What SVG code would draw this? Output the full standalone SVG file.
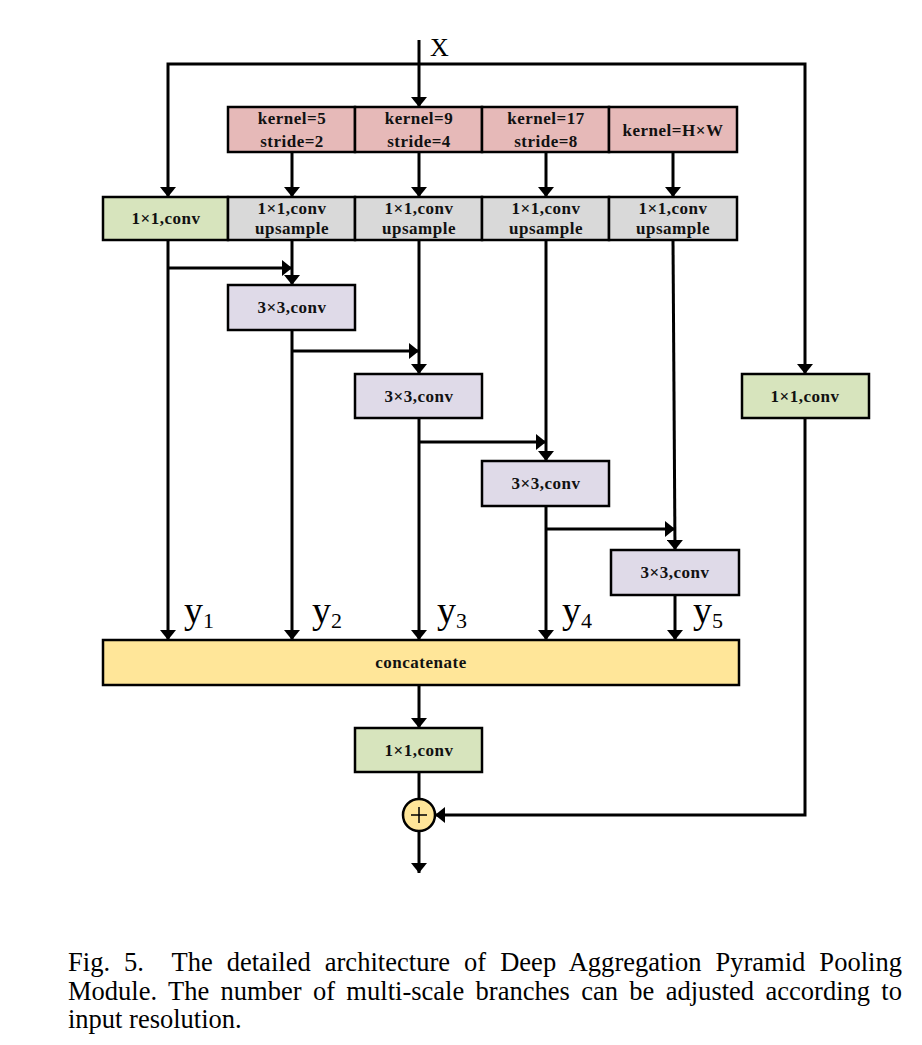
<svg xmlns="http://www.w3.org/2000/svg" width="922" height="1045" viewBox="0 0 922 1045">
<defs>
<marker id="ah" markerUnits="userSpaceOnUse" markerWidth="11" markerHeight="16" refX="10" refY="8" orient="auto">
<path d="M0,0 L10,8 L0,16 z" fill="#000"/>
</marker>
</defs>
<style>
.box{stroke:#000;stroke-width:2.5}
.pink{fill:#E6B9B8}
.grey{fill:#D9D9D9}
.green{fill:#D7E4BD}
.lav{fill:#DFDAE8}
.yel{fill:#FFE699}
.t{font-family:"Liberation Serif","Times New Roman",serif;font-weight:bold;font-size:17px;fill:#111;text-anchor:middle;letter-spacing:0.5px}
.c{fill:none;stroke:#000;stroke-width:3}
.a{fill:none;stroke:#000;stroke-width:3;marker-end:url(#ah)}
.y{font-family:"Liberation Serif","Times New Roman",serif;font-size:38px;fill:#000}
.ys{font-size:22px}
.cap{font-family:"Liberation Serif","Times New Roman",serif;font-size:26.5px;fill:#000;white-space:pre}
</style>
<rect width="922" height="1045" fill="#fff"/>

<g id="connectors">
<path class="a" d="M419,40 L419,107"/>
<path class="a" d="M419,64 L168,64 L168,197"/>
<path class="a" d="M419,64 L805,64 L805,374"/>
<path class="a" d="M292,152 L292,197"/>
<path class="a" d="M419,152 L419,197"/>
<path class="a" d="M546,152 L546,197"/>
<path class="a" d="M673,152 L673,197"/>
<path class="a" d="M292,240 L292,285"/>
<path class="a" d="M168,240 L168,640"/>
<path class="a" d="M168,268 L292,268"/>
<path class="a" d="M419,240 L419,374"/>
<path class="a" d="M292,330 L292,640"/>
<path class="a" d="M292,351 L419,351"/>
<path class="a" d="M546,240 L546,461"/>
<path class="a" d="M419,418 L419,640"/>
<path class="a" d="M419,442 L546,442"/>
<path class="a" d="M673,240 L675,550"/>
<path class="a" d="M546,506 L546,640"/>
<path class="a" d="M546,529 L675,529"/>
<path class="a" d="M675,595 L675,640"/>
<path class="a" d="M419,685 L419,728"/>
<path class="c" d="M419,772 L419,799"/>
<path class="a" d="M419,831 L419,873"/>
<path class="a" d="M805,418 L805,815 L435,815"/>
</g>

<text x="430" y="56" style="font-family:'Liberation Serif','Times New Roman',serif;font-size:26px">X</text>

<g id="pool1"><rect class="box pink" x="228" y="107" width="127" height="45"/><text class="t" x="292" y="124">kernel=5</text><text class="t" x="292" y="147">stride=2</text></g>
<g id="pool2"><rect class="box pink" x="355" y="107" width="127" height="45"/><text class="t" x="419" y="124">kernel=9</text><text class="t" x="419" y="147">stride=4</text></g>
<g id="pool3"><rect class="box pink" x="482" y="107" width="127" height="45"/><text class="t" x="546" y="124">kernel=17</text><text class="t" x="546" y="147">stride=8</text></g>
<g id="pool4"><rect class="box pink" x="609" y="107" width="128" height="45"/><text class="t" x="673" y="136">kernel=H×W</text></g>

<g id="conv1x1a"><rect class="box green" x="103" y="197" width="125" height="43"/><text class="t" x="166" y="224">1×1,conv</text></g>
<g id="up1"><rect class="box grey" x="228" y="197" width="127" height="43"/><text class="t" x="292" y="214">1×1,conv</text><text class="t" x="292" y="234">upsample</text></g>
<g id="up2"><rect class="box grey" x="355" y="197" width="127" height="43"/><text class="t" x="419" y="214">1×1,conv</text><text class="t" x="419" y="234">upsample</text></g>
<g id="up3"><rect class="box grey" x="482" y="197" width="127" height="43"/><text class="t" x="546" y="214">1×1,conv</text><text class="t" x="546" y="234">upsample</text></g>
<g id="up4"><rect class="box grey" x="609" y="197" width="128" height="43"/><text class="t" x="673" y="214">1×1,conv</text><text class="t" x="673" y="234">upsample</text></g>

<g id="conv3a"><rect class="box lav" x="228" y="285" width="127" height="45"/><text class="t" x="292" y="313">3×3,conv</text></g>
<g id="conv3b"><rect class="box lav" x="355" y="374" width="127" height="44"/><text class="t" x="419" y="402">3×3,conv</text></g>
<g id="conv3c"><rect class="box lav" x="482" y="461" width="127" height="45"/><text class="t" x="546" y="489">3×3,conv</text></g>
<g id="conv3d"><rect class="box lav" x="611" y="550" width="128" height="45"/><text class="t" x="675" y="578">3×3,conv</text></g>

<g id="conv1x1b"><rect class="box green" x="742" y="374" width="127" height="44"/><text class="t" x="805" y="402">1×1,conv</text></g>

<g id="labels">
<text class="y" x="184" y="623">y<tspan class="ys" dy="5">1</tspan></text>
<text class="y" x="312" y="623">y<tspan class="ys" dy="5">2</tspan></text>
<text class="y" x="437" y="623">y<tspan class="ys" dy="5">3</tspan></text>
<text class="y" x="562" y="623">y<tspan class="ys" dy="5">4</tspan></text>
<text class="y" x="693" y="623">y<tspan class="ys" dy="5">5</tspan></text>
</g>

<g id="concat"><rect class="box yel" x="103" y="640" width="636" height="45"/><text class="t" x="421" y="668">concatenate</text></g>

<g id="conv1x1c"><rect class="box green" x="355" y="728" width="127" height="44"/><text class="t" x="419" y="756">1×1,conv</text></g>

<g id="add"><circle cx="419" cy="815" r="16" fill="#FFE699" stroke="#000" stroke-width="2.5"/><path d="M411,815 H427 M419,807 V823" stroke="#000" stroke-width="1.5"/></g>

<g id="caption">
<text class="cap" x="68" y="971" word-spacing="7.3" textLength="834" lengthAdjust="spacing">Fig. 5.  The detailed architecture of Deep Aggregation Pyramid Pooling</text>
<text class="cap" x="68" y="1000" word-spacing="4.7" textLength="834" lengthAdjust="spacing">Module. The number of multi-scale branches can be adjusted according to</text>
<text class="cap" x="68" y="1028">input resolution.</text>
</g>
</svg>
